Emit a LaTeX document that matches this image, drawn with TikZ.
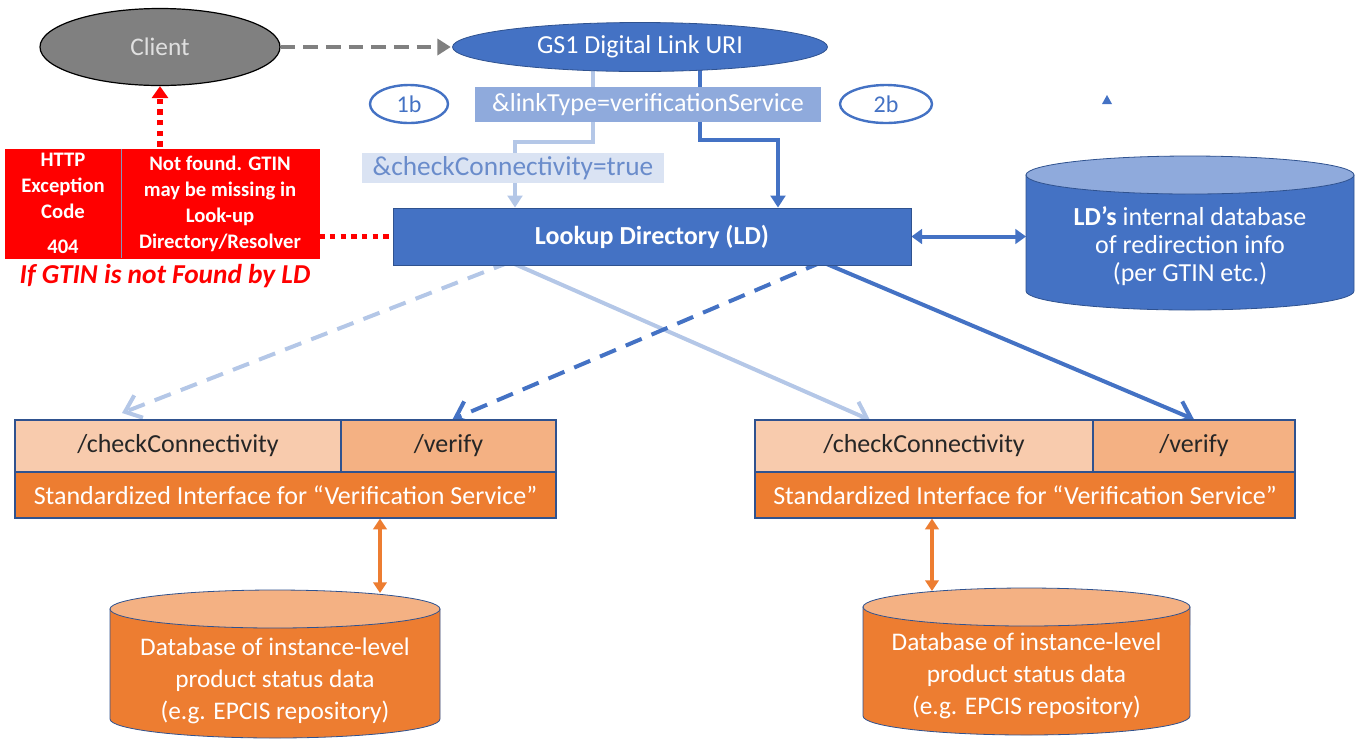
\documentclass[tikz,border=0pt]{standalone}
\usepackage{fontspec}
\setmainfont{Carlito}
\usetikzlibrary{arrows.meta,shapes.geometric,backgrounds}
\definecolor{cblue}{HTML}{4472C4}
\definecolor{cbluedk}{HTML}{2F528F}
\definecolor{cbluemid}{HTML}{8FAADC}
\definecolor{cbluelt}{HTML}{B4C7E7}
\definecolor{cbluext}{HTML}{DAE3F3}
\definecolor{cbluetxt}{HTML}{6A8CCB}
\definecolor{corange}{HTML}{ED7D31}
\definecolor{corangemid}{HTML}{F4B183}
\definecolor{corangelt}{HTML}{F8CBAD}
\definecolor{cgray}{HTML}{808080}
\definecolor{cred}{HTML}{FF0000}
\definecolor{ctext}{HTML}{262626}
\tikzset{
  bigfont/.style={font=\fontsize{19.5}{23}\selectfont},
  midfont/.style={font=\fontsize{19.5}{23}\selectfont},
  ovalnum/.style={ellipse, draw=cblue, line width=1.8pt, fill=white, text=cblue, inner sep=0, font=\fontsize{18}{20}\selectfont},
  ifbox/.style={rectangle, draw=cbluedk, line width=0.9pt, inner sep=0, font=\fontsize{19.5}{23}\selectfont},
  redbox/.style={rectangle, fill=cred, draw=cred, text=white, inner sep=0, align=center, font=\fontsize{15.5}{19.5}\selectfont\bfseries},
  ltline/.style={draw=cbluelt, line width=3pt},
  dkline/.style={draw=cblue, line width=3pt},
  bighead/.style={-{Triangle[length=9pt,width=11pt]}},
  barbhead/.style={-{Straight Barb[length=11pt,width=18pt,line width=3pt]}},
  dashpat/.style={dash pattern=on 13pt off 8pt},
  dbtext/.style={text=white, align=center, inner sep=0},
}
\begin{document}
\begin{tikzpicture}[x=0.75pt,y=-0.75pt]
\useasboundingbox (0,0) rectangle (1361,744);

% ---------- top nodes ----------
\node[ellipse, fill=cgray, draw=black, line width=0.9pt, minimum width=180pt, minimum height=57.75pt, inner sep=0, text=white!88!black, font=\fontsize{19}{21}\selectfont] (client) at (160,47) {Client};
\node[ellipse, fill=cblue, draw=cbluedk, line width=0.6pt, minimum width=281.25pt, minimum height=36.75pt, inner sep=0, text=white, bigfont] (gs1) at (640,47) {GS1 Digital Link URI};
\node[ovalnum, minimum width=58.5pt, minimum height=28.5pt] (n1b) at (409,104) {1b};
\node[ovalnum, minimum width=69pt, minimum height=28.5pt] (n2b) at (886,104) {2b};
\node[rectangle, fill=cbluemid, inner sep=0, minimum width=259.5pt, minimum height=26.25pt, text=white, midfont] (lt) at (648,104.5) {\&linkType=verificationService};
\node[rectangle, fill=cbluext, inner sep=0, minimum width=226.5pt, minimum height=22.5pt, text=cbluetxt, font=\fontsize{20.5}{23}\selectfont] (cc) at (513,168) {\&checkConnectivity=true};
\node[rectangle, fill=cblue, draw=cbluedk, line width=0.6pt, inner sep=0, minimum width=388.5pt, minimum height=42.75pt, text=white, font=\fontsize{19.5}{23}\selectfont\bfseries] (ld) at (652,236.5) {Lookup Directory (LD)};

% stray arrow tip
\fill[cblue] (1102,104) -- (1112,104) -- (1107,95) -- cycle;

% ---------- red exception ----------
\node[redbox, minimum width=87pt, minimum height=81.75pt] (http) at (63,203.5) {HTTP\\Exception\\Code\\[7pt]404};
\node[redbox, minimum width=148.5pt, minimum height=81.75pt] (nf) at (220,203.5) {Not found. GTIN\\may be missing in\\Look-up\\Directory/Resolver};
\draw[cbluedk!60, line width=0.8pt] (http.north east) -- (http.south east);
\node[text=cred, font=\fontsize{20.5}{24}\selectfont\bfseries\itshape, inner sep=0] (ifg) at (165,276) {If GTIN is not Found by LD};

% ---------- LD database cylinder ----------
\path[fill=cblue, draw=cbluedk, line width=0.6pt] (1026,175) -- (1026,291) arc[start angle=180, end angle=360, x radius=123pt, y radius=14.25pt] -- (1354,175) -- cycle;
\path[fill=cbluemid, draw=cbluedk, line width=0.6pt] (1190,175) ellipse [x radius=123pt, y radius=14.25pt];
\node[dbtext, font=\fontsize{19.5}{21}\selectfont] (lddb) at (1190,246) {{\bfseries LD’s} internal database\\of redirection info\\(per GTIN etc.)};
\coordinate (lddbW) at (1026,236.5);

% ---------- interfaces ----------
\node[ifbox, fill=corangelt, minimum width=244.5pt, minimum height=39pt, text=ctext] (lcc) at (178,446) {/checkConnectivity};
\node[ifbox, fill=corangemid, minimum width=161.25pt, minimum height=39pt, text=ctext] (lv) at (448.5,446) {/verify};
\node[ifbox, fill=corange, minimum width=405.75pt, minimum height=34.5pt, text=white] (lstd) at (285.5,495) {Standardized Interface for “Verification Service”};
\node[ifbox, fill=corangelt, minimum width=253.5pt, minimum height=39pt, text=ctext] (rcc) at (924,446) {/checkConnectivity};
\node[ifbox, fill=corangemid, minimum width=151.5pt, minimum height=39pt, text=ctext] (rv) at (1194,446) {/verify};
\node[ifbox, fill=corange, minimum width=405pt, minimum height=34.5pt, text=white] (rstd) at (1025,495) {Standardized Interface for “Verification Service”};

% ---------- orange cylinders ----------
\path[fill=corange, draw=cbluedk, line width=0.6pt] (110,609) -- (110,719) arc[start angle=180, end angle=360, x radius=123.75pt, y radius=14.25pt] -- (440,609) -- cycle;
\path[fill=corangemid, draw=cbluedk, line width=0.6pt] (275,609) ellipse [x radius=123.75pt, y radius=14.25pt];
\node[dbtext, font=\fontsize{19}{24}\selectfont] (ldb) at (275,681) {Database of instance-level\\product status data\\(e.g. EPCIS repository)};
\path[fill=corange, draw=cbluedk, line width=0.6pt] (863,607) -- (863,716) arc[start angle=180, end angle=360, x radius=122.6pt, y radius=14.25pt] -- (1190,607) -- cycle;
\path[fill=corangemid, draw=cbluedk, line width=0.6pt] (1026.5,607) ellipse [x radius=122.6pt, y radius=14.25pt];
\node[dbtext, font=\fontsize{19}{24}\selectfont] (rdb) at (1026.5,676) {Database of instance-level\\product status data\\(e.g. EPCIS repository)};
\coordinate (ldbT) at (380,593);
\coordinate (rdbT) at (932,591);

% ---------- connectors ----------
\coordinate (b1) at (593,142);
\coordinate (b2) at (515,142);
\coordinate (c1) at (700,140);
\coordinate (c2) at (778,140);
\coordinate (e1) at (122,413);
\coordinate (e2) at (870,420);
\coordinate (ldA) at (510,262);
\coordinate (ldB) at (822,262);

\begin{scope}[on background layer]
  \draw[draw=cgray, line width=3.6pt, dash pattern=on 11pt off 6pt, -{Triangle[length=10pt,width=12pt]}] (client.east) -- ([xshift=-1pt]gs1.west);
  \draw[ltline, bighead] (b1 |- gs1.center) -- (b1) -- (b2) -- (b2 |- ld.north);
  \draw[dkline, bighead] (c1 |- gs1.center) -- (c1) -- (c2) -- (c2 |- ld.north);
  \draw[dkline, {Triangle[length=8pt,width=11pt]}-{Triangle[length=8pt,width=11pt]}] (ld.east) -- (lddbW);
  \draw[draw=cred, line width=4pt, dash pattern=on 4pt off 4pt] (nf.east |- ld.west) -- (ld.west);
  \draw[draw=cred, line width=4pt, dash pattern=on 4pt off 4pt, -{Triangle[length=9pt,width=12pt]}] (http.north east -| client.south) ++(0,-2) -- (client.south);
  \draw[ltline, dashpat, barbhead] (ldA) -- (e1);
  \draw[ltline, barbhead] (ldA) -- (e2);
  \draw[dkline, dashpat, barbhead] (ldB) -- ([xshift=3pt]lv.north);
  \draw[dkline, barbhead] (ldB) -- (rv.north);
  \draw[draw=corange, line width=2.6pt, {Triangle[length=8pt,width=10pt]}-{Triangle[length=8pt,width=10pt]}] (lstd.south -| ldbT) -- (ldbT);
  \draw[draw=corange, line width=2.6pt, {Triangle[length=8pt,width=10pt]}-{Triangle[length=8pt,width=10pt]}] (rstd.south -| rdbT) -- (rdbT);
\end{scope}
\end{tikzpicture}
\end{document}
